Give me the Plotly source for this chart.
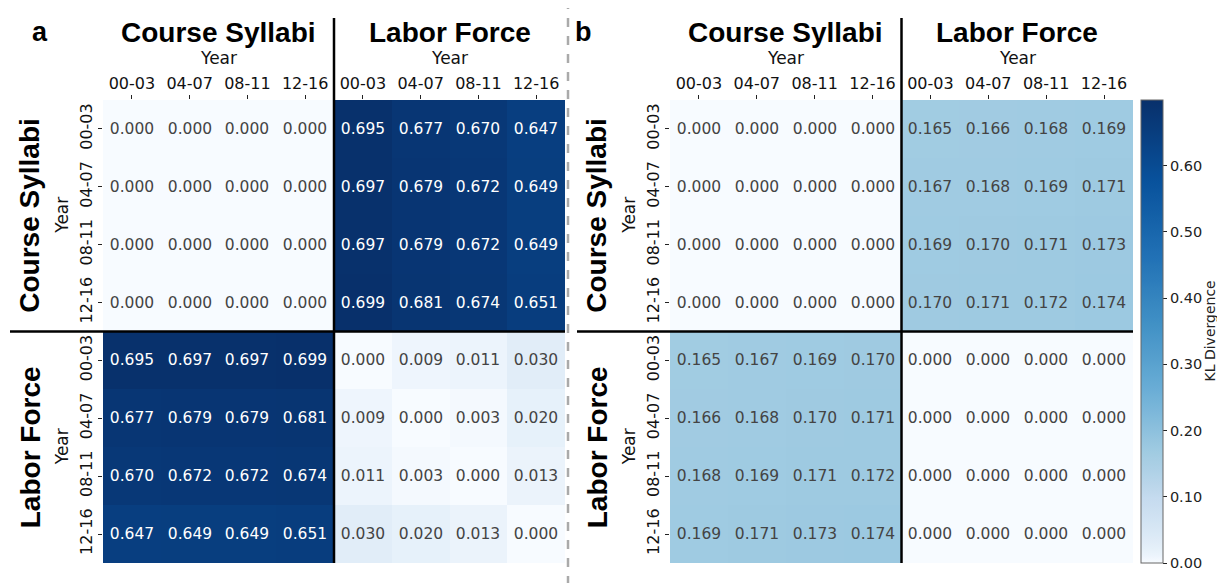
import plotly.graph_objects as go

years = ["00-03", "04-07", "08-11", "12-16"]
tick_labels = years + years
group_titles = ["Course Syllabi", "Labor Force"]

panel_a_values = [
    [0.000, 0.000, 0.000, 0.000, 0.695, 0.677, 0.670, 0.647],
    [0.000, 0.000, 0.000, 0.000, 0.697, 0.679, 0.672, 0.649],
    [0.000, 0.000, 0.000, 0.000, 0.697, 0.679, 0.672, 0.649],
    [0.000, 0.000, 0.000, 0.000, 0.699, 0.681, 0.674, 0.651],
    [0.695, 0.697, 0.697, 0.699, 0.000, 0.009, 0.011, 0.030],
    [0.677, 0.679, 0.679, 0.681, 0.009, 0.000, 0.003, 0.020],
    [0.670, 0.672, 0.672, 0.674, 0.011, 0.003, 0.000, 0.013],
    [0.647, 0.649, 0.649, 0.651, 0.030, 0.020, 0.013, 0.000],
]
panel_b_values = [
    [0.000, 0.000, 0.000, 0.000, 0.165, 0.166, 0.168, 0.169],
    [0.000, 0.000, 0.000, 0.000, 0.167, 0.168, 0.169, 0.171],
    [0.000, 0.000, 0.000, 0.000, 0.169, 0.170, 0.171, 0.173],
    [0.000, 0.000, 0.000, 0.000, 0.170, 0.171, 0.172, 0.174],
    [0.165, 0.167, 0.169, 0.170, 0.000, 0.000, 0.000, 0.000],
    [0.166, 0.168, 0.170, 0.171, 0.000, 0.000, 0.000, 0.000],
    [0.168, 0.169, 0.171, 0.172, 0.000, 0.000, 0.000, 0.000],
    [0.169, 0.171, 0.173, 0.174, 0.000, 0.000, 0.000, 0.000],
]
cbar_ticks = [0.0, 0.1, 0.2, 0.3, 0.4, 0.5, 0.6]

W, H = 1225, 583
OFF = 8  # page body margin of the browser

# matplotlib "Blues" anchor colours, sampled with a gamma so the colours read like the reference
blues_rgb = [(247, 251, 255), (222, 235, 247), (198, 219, 239), (158, 202, 225),
             (107, 174, 214), (66, 146, 198), (33, 113, 181), (8, 81, 156), (8, 48, 107)]
GAMMA = 0.7


def blues_at(t):
    t = min(max(t, 0.0), 1.0) * 8
    i = min(int(t), 7)
    f = t - i
    a, b = blues_rgb[i], blues_rgb[i + 1]
    return "rgb(%d,%d,%d)" % tuple(round(a[k] + (b[k] - a[k]) * f) for k in range(3))


N = 64
colorscale = [[j / N, blues_at((j / N) ** GAMMA)] for j in range(N + 1)]

zmax = max(max(r) for r in panel_a_values + panel_b_values)
idx = list(range(8))
NUMFONT = "DejaVu Sans"
BOLD = "Liberation Sans"


def px(x):
    return (x - OFF) / W


def py(y):
    return 1 - (y - OFF) / H


fig = go.Figure()
fig.add_trace(go.Heatmap(
    z=panel_a_values, x=idx, y=idx, xaxis="x", yaxis="y",
    colorscale=colorscale, zmin=0, zmax=zmax, showscale=False,
    texttemplate="%{z:.3f}", textfont=dict(family=NUMFONT, size=15.5),
    hoverinfo="skip",
))
fig.add_trace(go.Heatmap(
    z=panel_b_values, x=idx, y=idx, xaxis="x2", yaxis="y2",
    colorscale=colorscale, zmin=0, zmax=zmax, showscale=True,
    texttemplate="%{z:.3f}", textfont=dict(family=NUMFONT, size=15.5),
    hoverinfo="skip",
    colorbar=dict(
        x=px(1141), xanchor="left", xpad=0, ypad=0,
        y=py(331.5), yanchor="middle", len=463, lenmode="pixels",
        thickness=22, outlinecolor="#666666", outlinewidth=1,
        tickvals=cbar_ticks, tickformat=".2f", ticks="outside", ticklen=4,
        tickcolor="#222",
        tickfont=dict(family=NUMFONT, size=14.5, color="#222"),
    ),
))

axis_common = dict(
    tickvals=idx, ticktext=tick_labels, ticks="outside", ticklen=4,
    tickcolor="#222", tickfont=dict(family=NUMFONT, size=16, color="#111"),
    showgrid=False, zeroline=False, showline=False, automargin=False,
)
fig.update_layout(
    width=W, height=H, margin=dict(l=0, r=0, t=0, b=0, autoexpand=False),
    paper_bgcolor="white", plot_bgcolor="white", showlegend=False,
    xaxis=dict(domain=[px(103), px(565)], anchor="y", side="top", **axis_common),
    yaxis=dict(domain=[py(563), py(100)], anchor="x", autorange="reversed",
               tickangle=-90, **axis_common),
    xaxis2=dict(domain=[px(670), px(1133)], anchor="y2", side="top", **axis_common),
    yaxis2=dict(domain=[py(563), py(100)], anchor="x2", autorange="reversed",
                tickangle=-90, **axis_common),
)

shapes = []
for xa, ya, x0, x1 in (("x", "y", 10, 565), ("x2", "y2", 577, 1133)):
    shapes.append(dict(type="line", xref=xa, yref="paper", x0=3.5, x1=3.5,
                       y0=py(563), y1=py(18), line=dict(color="black", width=2.5)))
    shapes.append(dict(type="line", xref="paper", yref=ya, x0=px(x0), x1=px(x1),
                       y0=3.5, y1=3.5, line=dict(color="black", width=2.5)))
shapes.append(dict(type="line", xref="paper", yref="paper", x0=px(568), x1=px(568),
                   y0=py(0), y1=py(600), line=dict(color="#aaaaaa", width=2.5, dash="dash")))
fig.update_layout(shapes=shapes)


def text(t, x, y, xref, yref, size, family, angle=0, color="black"):
    return dict(text=t, x=x, y=y, xref=xref, yref=yref, xanchor="center", yanchor="middle",
                textangle=angle, showarrow=False,
                font=dict(family=family, size=size, color=color))


ann = []
for letter, lx in (("a", 40), ("b", 583)):
    ann.append(text(f"<b>{letter}</b>", px(lx), py(32), "paper", "paper", 27, BOLD))
for xa, ya, left_x in (("x", "y", 30), ("x2", "y2", 597)):
    for k, title in enumerate(group_titles):
        c = 1.5 + 4 * k
        ann.append(text(f"<b>{title}</b>", c, py(32), xa, "paper", 28, BOLD))
        ann.append(text("Year", c, py(58), xa, "paper", 17, NUMFONT, color="#111"))
        ann.append(text(f"<b>{title}</b>", px(left_x), c, "paper", ya, 28, BOLD, angle=-90))
        ann.append(text("Year", px(left_x + 32), c, "paper", ya, 17, NUMFONT, angle=-90,
                        color="#111"))
ann.append(text("KL Divergence", px(1209), py(331.5), "paper", "paper", 14, NUMFONT,
                angle=-90, color="#222"))
fig.update_layout(annotations=ann)

fig.write_html("out.html")
